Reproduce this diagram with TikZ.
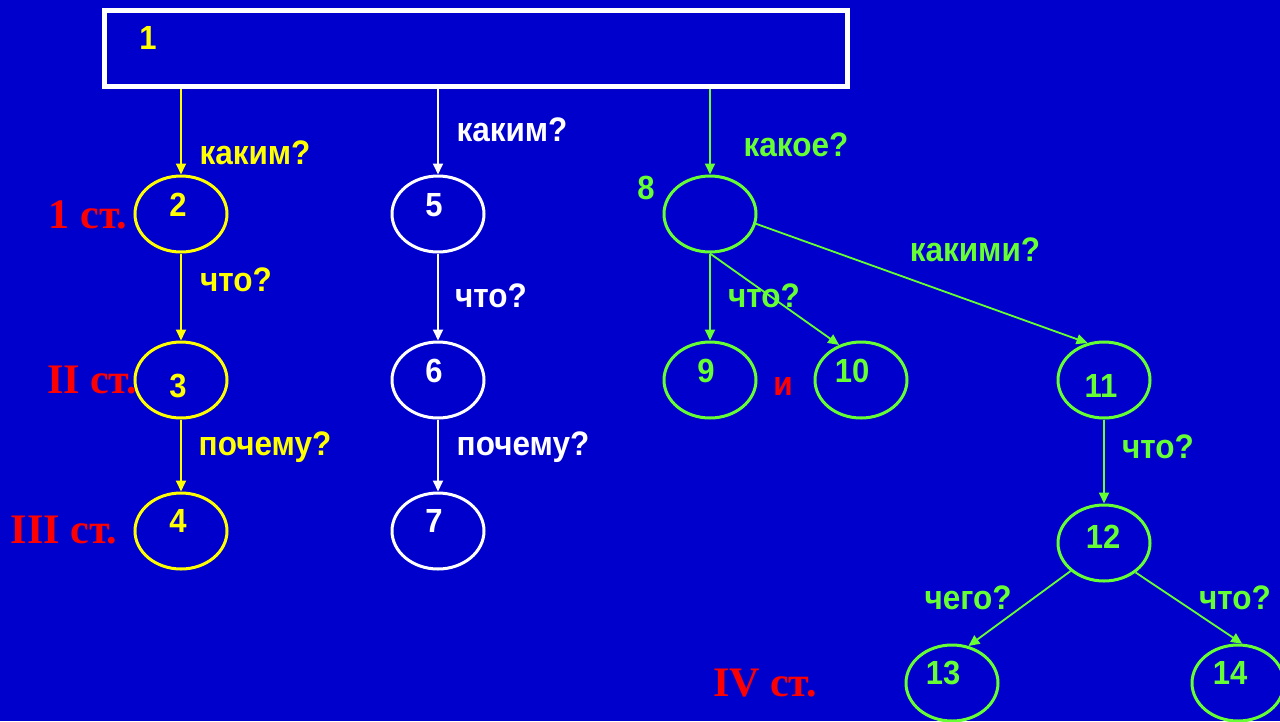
\documentclass[tikz,border=0pt]{standalone}
\usepackage{fontspec}
\setmainfont{Liberation Serif}
\setsansfont{Liberation Sans}
\usetikzlibrary{shapes.geometric,arrows.meta}
\definecolor{bgblue}{RGB}{0,0,204}
\definecolor{ylw}{RGB}{255,255,0}
\definecolor{grn}{RGB}{102,255,51}
\definecolor{rd}{RGB}{255,0,0}
\newcommand{\tallt}[1]{\scalebox{1}[1.08]{#1}}
\tikzset{
  oval/.style={ellipse,draw,line width=3pt,minimum width=92pt,minimum height=76pt,inner sep=0pt},
  num/.style={font=\sffamily\bfseries\fontsize{31}{31}\selectfont,inner sep=0pt},
  qlabel/.style={font=\sffamily\bfseries\fontsize{31.5}{31.5}\selectfont,inner sep=0pt},
  stlabel/.style={font=\rmfamily\bfseries\fontsize{42}{42}\selectfont,text=rd,inner sep=0pt},
  conn/.style={line width=1.8pt,-{Triangle[length=11pt,width=10pt]}},
}
\begin{document}
\begin{tikzpicture}[x=1pt,y=-1pt]
\fill[bgblue] (0,0) rectangle (1280,721);
\useasboundingbox (0,0) rectangle (1280,721);
\clip (0,0) rectangle (1280,721);
% top box
\node[draw=white,line width=5pt,minimum width=743pt,minimum height=76pt,inner sep=0pt] (box) at (475.5,48) {};
\node[num,text=ylw] (n1) at (148,38) {\tallt{1}};
% yellow column
\node[oval,draw=ylw] (c2) at (181,214) {};
\node[oval,draw=ylw] (c3) at (181,380) {};
\node[oval,draw=ylw] (c4) at (181,531) {};
\node[num,text=ylw] (n2) at (178,205) {\tallt{2}};
\node[num,text=ylw] (n3) at (178,386) {\tallt{3}};
\node[num,text=ylw] (n4) at (178,521) {\tallt{4}};
% white column
\node[oval,draw=white] (c5) at (438,214) {};
\node[oval,draw=white] (c6) at (438,380) {};
\node[oval,draw=white] (c7) at (438,531) {};
\node[num,text=white] (n5) at (434,205) {\tallt{5}};
\node[num,text=white] (n6) at (434,371) {\tallt{6}};
\node[num,text=white] (n7) at (434,521) {\tallt{7}};
% green tree
\node[oval,draw=grn] (c8) at (710,214) {};
\node[oval,draw=grn] (c9) at (710,380) {};
\node[oval,draw=grn] (c10) at (861,380) {};
\node[oval,draw=grn] (c11) at (1104,380) {};
\node[oval,draw=grn] (c12) at (1104,543) {};
\node[oval,draw=grn] (c13) at (952,683) {};
\node[oval,draw=grn] (c14) at (1238,683) {};
\node[num,text=grn] (n8) at (646,188) {\tallt{8}};
\node[num,text=grn] (n9) at (706,371) {\tallt{9}};
\node[num,text=grn] (n10) at (852,371) {\tallt{10}};
\node[num,text=grn] (n11) at (1101,386) {\tallt{11}};
\node[num,text=grn] (n12) at (1103,537) {\tallt{12}};
\node[num,text=grn] (n13) at (943,673) {\tallt{13}};
\node[num,text=grn] (n14) at (1230,673) {\tallt{14}};
% connectors
\draw[conn,ylw] (box.south -| c2) -- (c2.north);
\draw[conn,ylw] (c2.south) -- (c3.north);
\draw[conn,ylw] (c3.south) -- (c4.north);
\draw[conn,white] (box.south -| c5) -- (c5.north);
\draw[conn,white] (c5.south) -- (c6.north);
\draw[conn,white] (c6.south) -- (c7.north);
\draw[conn,grn] (box.south -| c8) -- (c8.north);
\draw[conn,grn] (c8.south) -- (c9.north);
\draw[conn,grn] (c8.south) -- (c10.122);
\draw[conn,grn] (c8.-12) -- (c11.114);
\draw[conn,grn] (c11.south) -- (c12.north);
\draw[conn,grn] (c12.-140) -- (c13.66);
\draw[conn,grn] (c12.-43) -- (c14.84);
% question labels
\node[qlabel,text=ylw] (q1) at (255,153) {\tallt{каким?}};
\node[qlabel,text=ylw] (q2) at (236,280) {\tallt{что?}};
\node[qlabel,text=ylw] (q3) at (265,447) {\tallt{почему?}};
\node[qlabel,text=white] (q4) at (512,130) {\tallt{каким?}};
\node[qlabel,text=white] (q5) at (491,296) {\tallt{что?}};
\node[qlabel,text=white] (q6) at (523,447) {\tallt{почему?}};
\node[qlabel,text=grn] (q7) at (796,145) {\tallt{какое?}};
\node[qlabel,text=grn] (q8) at (764,296) {\tallt{что?}};
\node[qlabel,text=grn] (q9) at (975,250) {\tallt{какими?}};
\node[qlabel,text=grn] (q10) at (1158,447) {\tallt{что?}};
\node[qlabel,text=grn] (q11) at (968,598) {\tallt{чего?}};
\node[qlabel,text=grn] (q12) at (1235,598) {\tallt{что?}};
\node[qlabel,text=rd] (andw) at (783,387) {\tallt{и}};
% level labels
\node[stlabel] (s1) at (88,215) {1 ст.};
\node[stlabel] (s2) at (92,380) {II ст.};
\node[stlabel] (s3) at (64,530) {III ст.};
\node[stlabel] (s4) at (765,683) {IV ст.};
\end{tikzpicture}
\end{document}
